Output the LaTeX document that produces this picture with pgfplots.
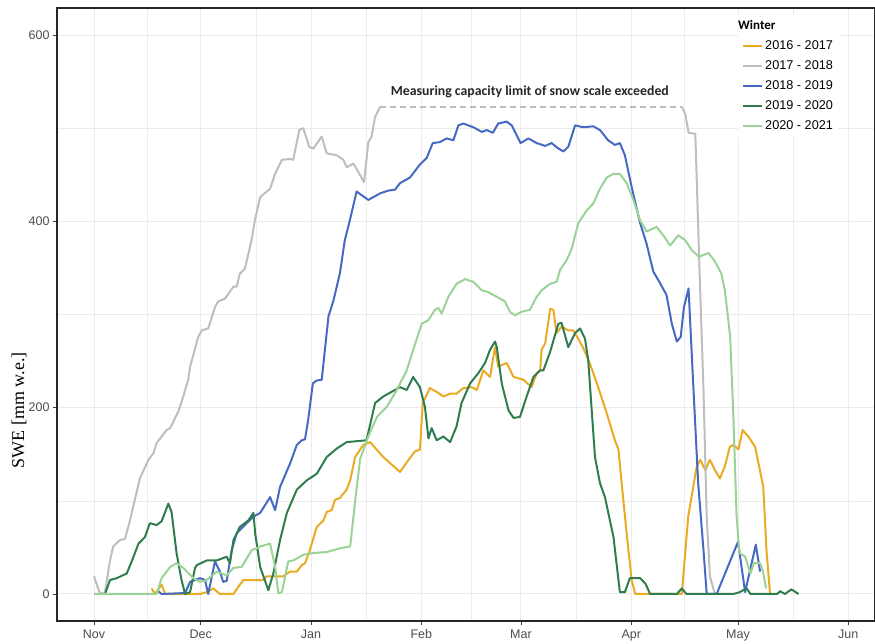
\documentclass[border=0pt]{standalone}
\usepackage{pgfplots}
\pgfplotsset{compat=1.18}
\usepackage{fontspec}
\setmainfont{Liberation Sans}
\newfontfamily\serifx{Liberation Serif}
\newfontfamily\carlito{Carlito}

\definecolor{c1617}{RGB}{233,170,36}
\definecolor{c1718}{RGB}{190,190,190}
\definecolor{c1819}{RGB}{70,105,195}
\definecolor{c1920}{RGB}{47,125,78}
\definecolor{c2021}{RGB}{155,210,150}
\definecolor{gridc}{RGB}{235,235,235}
\definecolor{tickc}{RGB}{77,77,77}

\begin{document}
\begin{tikzpicture}
\begin{axis}[
    name=ax,
    scale only axis,
    width=818pt, height=613pt,
    xmin=-10.4, xmax=219.5,
    ymin=-29, ymax=629,
    xtick={0,30,61,92,120,151,181,212},
    xticklabels={Nov,Dec,Jan,Feb,Mar,Apr,May,Jun},
    minor xtick={15,45.5,76.5,106,135.5,166,196.5},
    ytick={0,200,400,600},
    minor ytick={100,300,500},
    grid=both,
    major grid style={gridc, line width=1pt},
    minor grid style={gridc, line width=0.6pt},
    tick align=outside, tick pos=left,
    major tick length=4pt, minor tick length=0pt,
    tick style={black!75, line width=0.8pt},
    axis line style={black!85, line width=1.1pt},
    /pgf/number format/assume math mode=true,
    ticklabel style={font=\fontsize{12.5}{14}\selectfont, text=tickc},
    xticklabel style={yshift=-1pt},
    ylabel={SWE [mm w.e.]},
    ylabel style={font=\serifx\fontsize{18}{20}\selectfont,
        at={(axis description cs:-0.0465,0.344)}, anchor=center},
    every axis plot/.append style={line width=2pt, line join=round},
    legend cell align=left,
    legend image code/.code={\draw[#1] (0pt,0pt) -- (19pt,0pt);},
    legend style={at={(axis cs:181,622)}, anchor=north west, draw=none, fill=white,
        font=\fontsize{12.7}{14}\selectfont, inner xsep=4pt, inner ysep=3pt,
        nodes={inner sep=2pt, text height=9.5pt, text depth=2.5pt},
        row sep=4pt},
]
\addlegendimage{empty legend}
\addlegendentry{\hspace*{-27pt}{\carlito\bfseries\fontsize{13}{14}\selectfont Winter}}

% 2016 - 2017
\addplot[c1617] coordinates {
(16.2,6)(17.1,0)(19,10)(20,0)(29.8,0)(31.7,2)(33.5,6)(35.4,0)(39.2,0)(40.6,8)
(42,15)(47.6,15)(48.5,19)(53.2,19)(55.1,24)(57,24)(58.4,31)(59.3,33)(60.5,45)
(62.6,72)(64.5,79)(65.4,88)(66.8,90)(67.7,101)(69.1,103)(71,112)(72,122)(73.4,147)
(75.7,160)(77.6,163)(81.3,147)(86,131)(88.8,146)(90.2,153)(91.6,155)(92.4,205)
(94.4,221)(96.3,217)(98.2,212)(100.1,215)(101.9,215)(103.8,221)(106.2,222)
(107.6,219)(109.4,240)(111.3,233)(112.7,265)(113.6,244)(116,248)(117.9,233)
(120.7,230)(123,222)(124.4,237)(125.4,240)(125.8,262)(126.8,269)(128.2,306)
(129.1,305)(130,280)(131.4,287)(133.3,283)(134.7,283)(136.1,274)(137.5,264)
(139.3,248)(141.7,222)(144.1,194)(146.4,165)(147.4,155)(148.3,119)(149.7,65)
(151.1,15)(152.1,0)(165.2,0)(167,83)(169.4,137)(170.4,144)(171.8,133)(173.1,144)
(174.5,133)(175.9,124)(177.3,137)(178.7,158)(179.7,160)(181.1,155)(182.3,176)
(183.9,169)(185.8,158)(188.1,115)(189,47)(190,0)
};
\addlegendentry{2016 - 2017}

% 2017 - 2018
\addplot[c1718] coordinates {
(0,19)(1.5,2)(3,0)(4.5,36)(5.4,51)(7.3,58)(8.7,59)(10.1,79)(12.9,124)(15.3,144)
(16.7,151)(17.6,162)(20.4,176)(21.4,178)(23.7,196)(25.1,212)(25.6,219)(26.5,230)
(27,244)(29.3,276)(30.3,283)(32.1,285)(34,308)(34.9,314)(36.8,317)(39.2,330)
(40.1,330)(41,344)(42.4,349)(44.3,380)(45.2,401)(46.7,426)(49.5,435)(50.9,451)
(52.8,466)(55.1,467)(56,466)(57.7,498)(58.8,500)(60.5,480)(61.6,478)(64,491)
(65.4,473)(68.2,471)(70.1,466)(71,458)(72.9,462)(74.3,453)(75.9,442)(77.1,485)
(78,491)(79,512)(80.4,523)
};
\addlegendentry{2017 - 2018}
\addplot[c1718, line width=1.6pt, dash pattern=on 6pt off 4pt, forget plot] coordinates {
(80.4,523)(165.2,523)
};
\addplot[c1718, forget plot] coordinates {
(165.2,523)(166.2,515)(167.1,495)(169,494)(170.3,333)(171.3,219)(172.2,83)
(173.1,19)(174.5,0)
};

% 2018 - 2019
\addplot[c1819] coordinates {
(18.1,3)(19,0)(25.6,1)(27,13)(29.8,17)(31.2,15)(32.1,0)(34,35)(35.4,24)(36.3,13)
(37.3,14)(38.7,47)(40.1,65)(42.9,76)(44.8,83)(46.7,87)(49.5,104)(50.9,90)
(52.3,115)(55.1,140)(57,160)(58.4,165)(59.3,166)(60.2,187)(61.5,226)(62.5,229)
(64,230)(65.9,298)(67.3,315)(69.1,344)(70.5,380)(71.9,401)(73.8,432)(77.1,423)
(80.4,430)(82.7,433)(84.6,434)(86,441)(88.8,447)(91.6,461)(93.5,468)(95.2,484)
(97.2,485)(99.1,489)(101,487)(102.4,503)(103.8,505)(106.6,501)(109,496)
(110.4,498)(112.1,495)(113.6,505)(116,507)(117.4,503)(119.9,484)(122.1,489)
(124.4,484)(126.8,481)(128.6,484)(130.2,479)(131.9,475)(133.3,480)(135.2,503)
(137.5,501)(140.3,502)(142.2,498)(144.5,487)(146.4,482)(147.8,484)(149.2,471)
(151.1,437)(153.5,398)(155.3,376)(157.2,346)(158.6,337)(160.9,321)(162.4,290)
(163.8,271)(164.9,276)(165.8,308)(167.1,328)(168.4,226)(169.8,119)(171.3,47)
(172.2,0)(175,0)(181,56)(183,2)(186,53)(187.2,24)
};
\addlegendentry{2018 - 2019}

% 2019 - 2020
\addplot[c1920] coordinates {
(3.1,0)(4.5,15)(6.4,17)(9.2,22)(10.6,35)(12.5,54)(14.3,61)(15.7,76)(17.6,74)
(19,78)(20.9,97)(21.8,88)(23.2,44)(24.6,15)(25.6,0)(27,2)(28.4,28)(28.9,31)
(31.7,36)(34.5,36)(37.3,40)(38.2,33)(39.2,58)(41,72)(43.4,79)(44.8,87)(45.3,65)
(46.7,29)(49,4)(50.4,22)(52.3,58)(54.2,87)(57,112)(59.8,122)(62.6,129)(65.4,147)
(68.2,156)(71,163)(76.6,165)(79,205)(81.3,212)(86,222)(87.9,219)(89.7,233)
(91.6,222)(93,201)(94,167)(94.9,178)(96.3,165)(98.2,169)(100.1,163)(101.9,180)
(103.3,205)(105.7,226)(108,237)(109.9,248)(111.3,262)(112.7,271)(113.2,265)
(114.6,226)(116.5,197)(117.9,189)(119.7,190)(121.6,212)(123.5,233)(125.4,240)
(126.3,240)(128.2,260)(130.5,290)(131.4,291)(133.3,265)(135.2,280)(136.6,285)
(138,274)(138.9,251)(140.8,147)(142.2,119)(143.6,104)(146,61)(147.8,2)(149.2,2)
(150.6,17)(153.5,17)(155,11)(156.3,0)(163.8,0)(165.2,6)(166.5,0)(179.7,0)
(181.5,2)(183.4,6)(184.5,0)(192,0)(192.8,3)(194.2,0)(196,5)(198,0)
};
\addlegendentry{2019 - 2020}

% 2020 - 2021
\addplot[c2021] coordinates {
(0,0)(17.6,0)(19,17)(21.4,29)(23.2,33)(25.1,28)(27.9,17)(29.8,13)(31.7,15)
(34.5,24)(37.3,20)(39.2,28)(41.5,29)(44.3,47)(46.7,51)(49.5,54)(50.9,29)(51.8,1)
(52.8,2)(54.6,35)(56,36)(58.8,42)(61.6,44)(65.4,45)(69.1,49)(72,51)(73.4,100)
(74.8,145)(77.1,169)(79.5,190)(82.3,201)(85.1,219)(87.9,240)(89.7,262)(92.1,290)
(94,294)(95.8,305)(96.8,307)(97.7,301)(99.6,319)(101.9,333)(104.3,338)
(106.6,335)(109,326)(110.8,324)(113.2,319)(115.5,314)(116.9,303)(118.3,299)
(120.2,303)(122.5,305)(124.4,319)(125.8,326)(128.2,333)(130,335)(131,348)
(132.8,358)(134.3,371)(136.1,398)(138.5,412)(140.3,419)(142.2,435)(144.1,447)
(146,451)(147.8,451)(149.7,441)(151.6,423)(153.5,401)(155.3,389)(158.1,394)
(160,385)(161.9,374)(164.2,385)(166.1,380)(168,369)(170,362)(172.7,366)
(174.5,357)(176.3,344)(177.3,326)(178.8,276)(179.7,190)(180.6,83)(181.4,44)
(183,40)(184.5,22)(185.4,33)(187.2,33)(187.9,26)(188.9,6)
};
\addlegendentry{2020 - 2021}

\node[font=\carlito\bfseries\fontsize{13.8}{15}\selectfont, text=black!85]
    at (axis cs:122.5,539) {Measuring capacity limit of snow scale exceeded};
\end{axis}
\pgfresetboundingbox
\path[use as bounding box] ([shift={(-57pt,-22pt)}]ax.south west)
    rectangle ([shift={(0pt,8pt)}]ax.north east);
\end{tikzpicture}
\end{document}
